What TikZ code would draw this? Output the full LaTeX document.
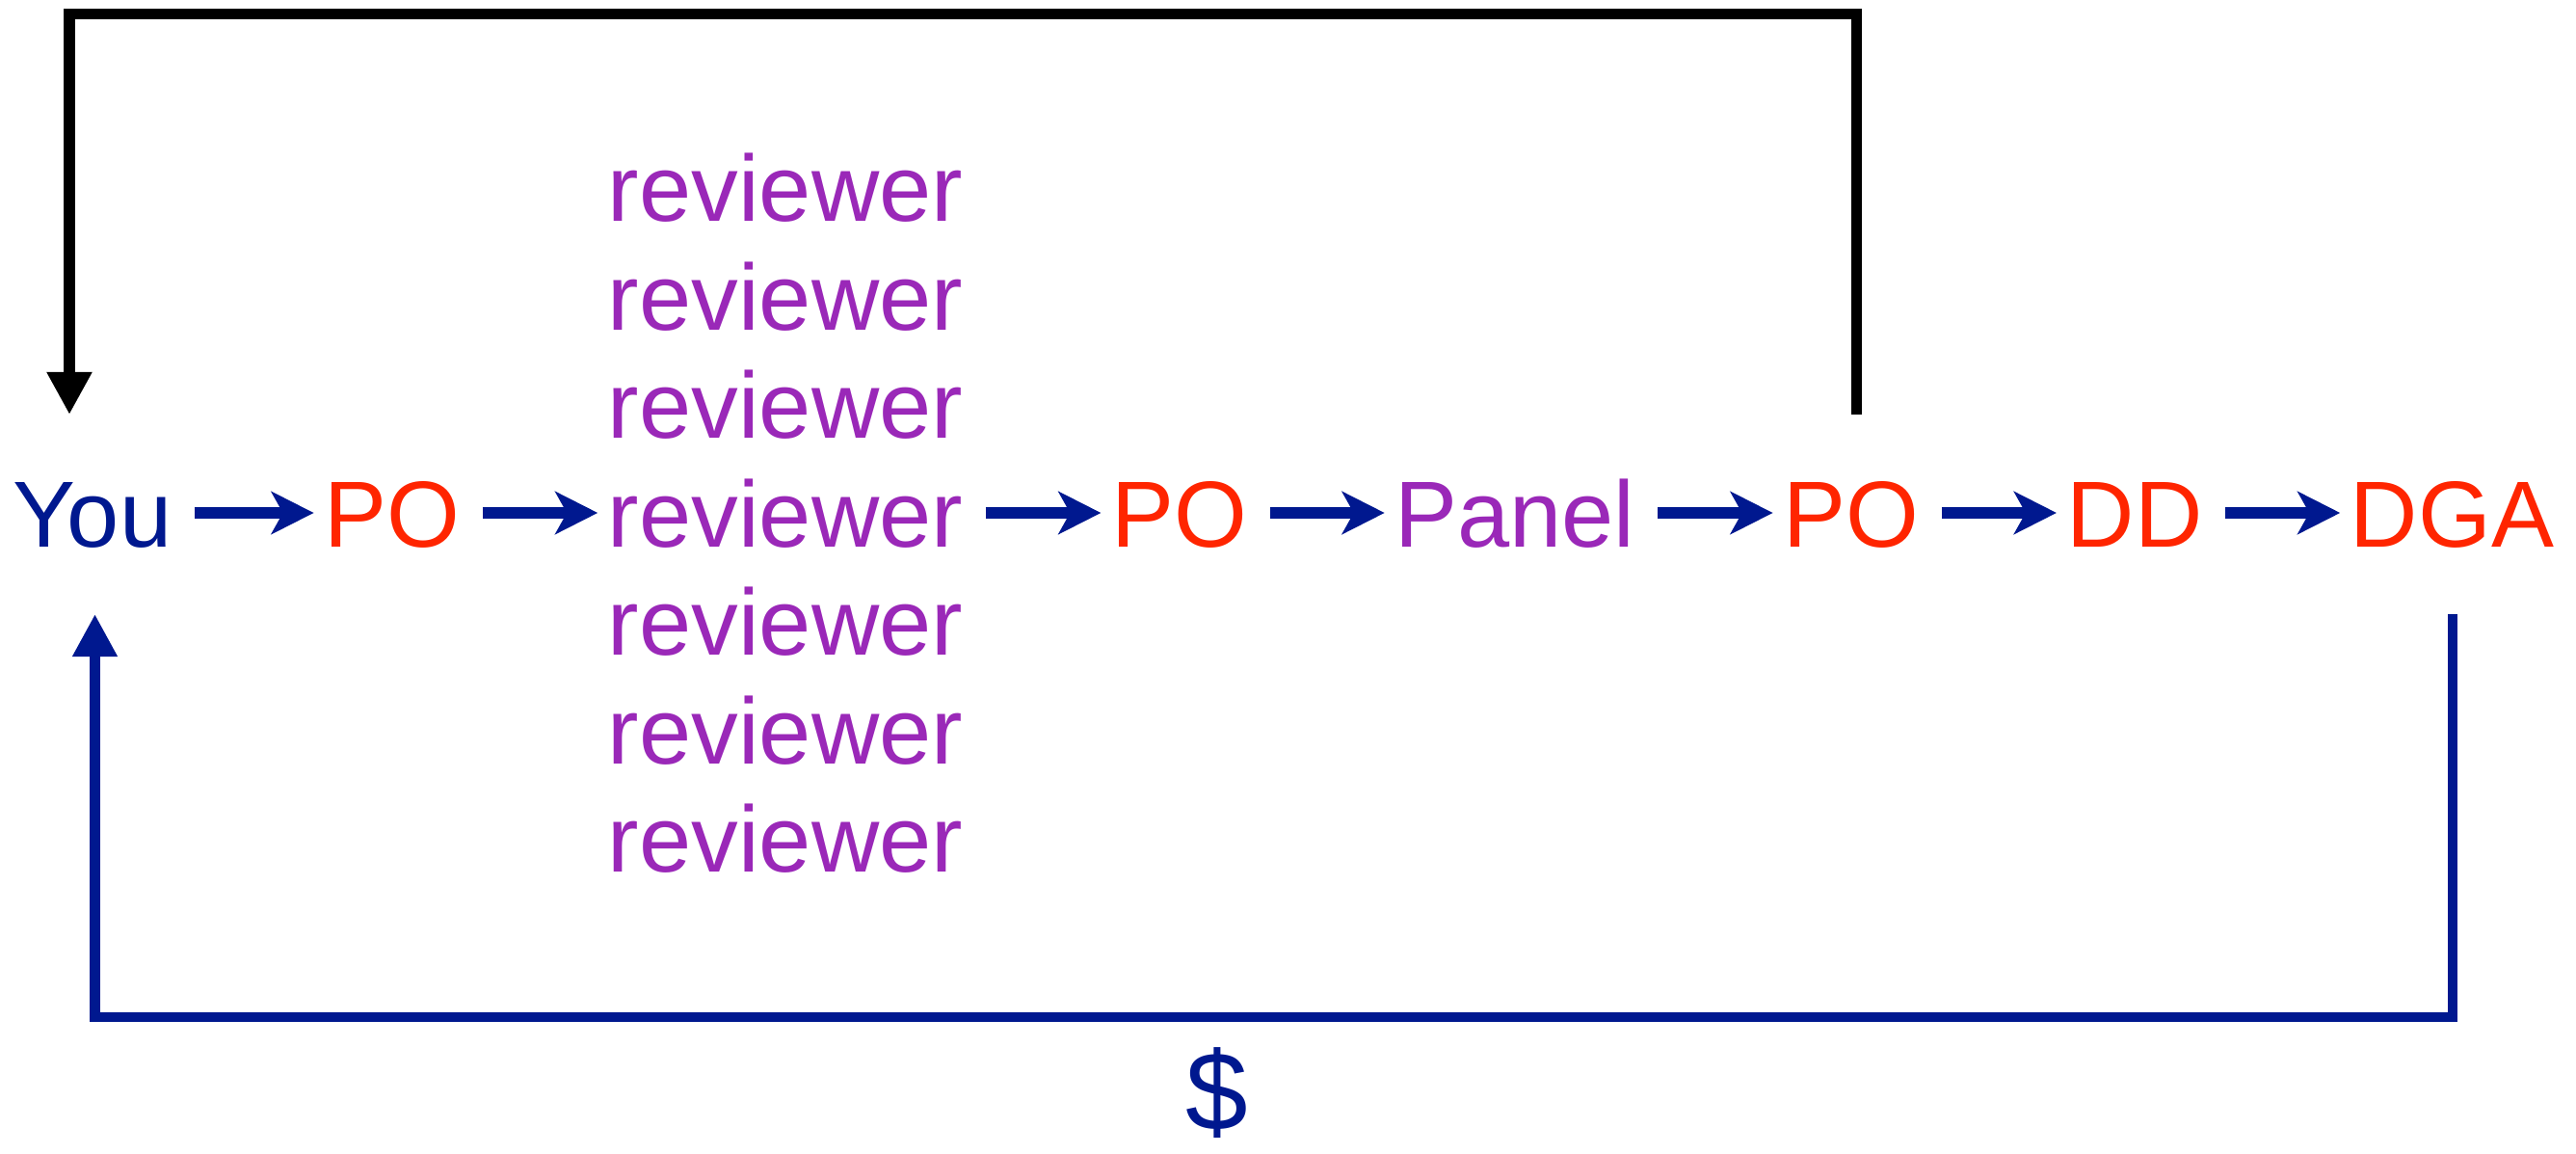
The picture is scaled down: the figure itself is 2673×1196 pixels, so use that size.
\documentclass[tikz,border=0pt]{standalone}
\usepackage{fontspec}
\setmainfont{Liberation Sans}
\usetikzlibrary{arrows.meta}
\definecolor{navy}{RGB}{0,24,143}
\definecolor{flame}{RGB}{255,37,0}
\definecolor{plum}{RGB}{154,40,184}
\begin{document}
\begin{tikzpicture}[x=0.01cm,y=-0.01cm,
  lbl/.style={font=\fontsize{27.7pt}{33pt}\selectfont, inner sep=0pt,
              text height=0.70cm, text depth=0pt, anchor=base},
  who/.style={lbl, text=navy},
  office/.style={lbl, text=flame},
  peer/.style={lbl, text=plum},
  flow/.style={draw=navy, line width=0.11cm,
               -{Stealth[length=0.44cm,width=0.44cm,inset=0.12cm]},
               shorten <=0.23cm, shorten >=0.10cm},
  backloop/.style={draw=black, line width=0.11cm, line join=miter,
               -{Triangle[length=0.44cm,width=0.44cm]}},
  payloop/.style={draw=navy, line width=0.105cm, line join=miter,
               -{Triangle[length=0.44cm,width=0.44cm]}}]
\useasboundingbox (0,0) rectangle (2673,1196);

% main row
\node[who]    (you)   at (96,567)    {You};
\node[office] (po1)   at (406.7,567) {PO};
\node[peer]   (rev1)  at (815,229.5) {reviewer};
\node[peer]   (rev2)  at (815,342)   {reviewer};
\node[peer]   (rev3)  at (815,454.5) {reviewer};
\node[peer]   (rev4)  at (815,567)   {reviewer};
\node[peer]   (rev5)  at (815,679.5) {reviewer};
\node[peer]   (rev6)  at (815,792)   {reviewer};
\node[peer]   (rev7)  at (815,904.5) {reviewer};
\node[office] (po2)   at (1223.5,567) {PO};
\node[peer]   (panel) at (1572,567)  {Panel};
\node[office] (po3)   at (1920.7,567) {PO};
\node[office] (dd)    at (2215,567)  {DD};
\node[office] (dga)   at (2544.5,567) {DGA};
\node[lbl, text=navy, font=\fontsize{33pt}{38pt}\selectfont] (money) at (1262.5,1172) {\$};

% forward chain
\draw[flow] (you.east)  -- (po1.west);
\draw[flow] (po1.east)  -- (rev4.west);
\draw[flow] (rev4.east) -- (po2.west);
\draw[flow] (po2.east)  -- (panel.west);
\draw[flow] (panel.east) -- (po3.west);
\draw[flow] (po3.east)  -- (dd.west);
\draw[flow] (dd.east)   -- (dga.west);

% feedback over the top
\coordinate (kstart) at (1926,430);
\coordinate (ktip)   at (72,430);
\coordinate (ktop)   at (0,14.5);
\draw[backloop] (kstart) -- (kstart |- ktop) -- (ktip |- ktop) -- (ktip);

% payment along the bottom
\coordinate (pstart) at (2545,637);
\coordinate (ptip)   at (98.5,637);
\coordinate (pbot)   at (0,1055);
\draw[payloop] (pstart) -- (pstart |- pbot) -- (ptip |- pbot) -- (ptip);
\end{tikzpicture}
\end{document}
